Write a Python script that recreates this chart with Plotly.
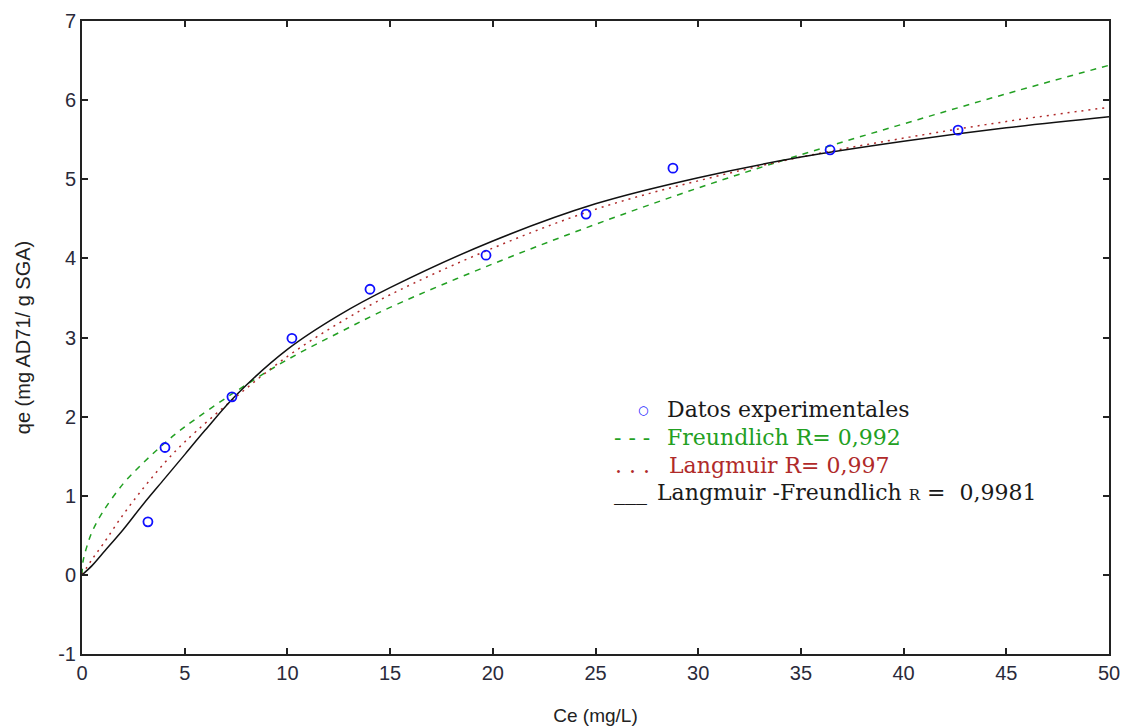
import plotly.graph_objects as go

# Experimental equilibrium data
ce_exp = [3.21, 4.04, 7.30, 10.22, 14.02, 19.67, 24.54, 28.77, 36.42, 42.65]
qe_exp = [0.67, 1.61, 2.25, 2.99, 3.61, 4.04, 4.56, 5.14, 5.37, 5.62]

# Freundlich isotherm curve
ce_fr = [0, 0.05, 0.25, 0.5, 1, 2, 3, 4, 5, 7.5, 10, 12.5, 15, 20, 25, 30, 35, 40, 45, 50]
qe_fr = [0, 0.17, 0.37, 0.55, 0.79, 1.15, 1.42, 1.66, 1.87, 2.32, 2.72, 3.06, 3.38,
         3.93, 4.43, 4.89, 5.31, 5.70, 6.08, 6.44]

# Langmuir isotherm curve
ce_la = [0, 0.5, 1, 2, 3, 4, 5, 7.5, 10, 12.5, 15, 20, 25, 30, 35, 40, 45, 50]
qe_la = [0, 0.20, 0.38, 0.76, 1.10, 1.41, 1.68, 2.25, 2.76, 3.18, 3.54, 4.13, 4.62,
         4.98, 5.28, 5.52, 5.73, 5.91]

# Langmuir-Freundlich isotherm curve
ce_lf = [0, 0.5, 1, 2, 3, 4, 5, 6, 7.5, 10, 12.5, 15, 20, 25, 30, 35, 40, 45, 50]
qe_lf = [0, 0.12, 0.27, 0.57, 0.90, 1.21, 1.52, 1.83, 2.27, 2.85, 3.28, 3.63, 4.22,
         4.69, 5.02, 5.28, 5.48, 5.65, 5.79]

x_ticks = [0, 5, 10, 15, 20, 25, 30, 35, 40, 45, 50]
y_ticks = [-1, 0, 1, 2, 3, 4, 5, 6, 7]
y_tick_labels = ["-1", "0", "1", "2", "3", "4", "5", "6", "7"]

GREEN = "#22a022"
RED = "#b02a2a"
BLUE = "#1010ff"

fig = go.Figure()
fig.add_trace(go.Scatter(x=ce_fr, y=qe_fr, mode="lines", line_shape="spline",
                         line=dict(color=GREEN, width=1.5, dash="6px,6px")))
fig.add_trace(go.Scatter(x=ce_la, y=qe_la, mode="lines", line_shape="spline",
                         line=dict(color=RED, width=1.5, dash="2px,5px")))
fig.add_trace(go.Scatter(x=ce_lf, y=qe_lf, mode="lines", line_shape="spline",
                         line=dict(color="#111111", width=1.5)))
fig.add_trace(go.Scatter(x=ce_exp, y=qe_exp, mode="markers",
                         marker=dict(symbol="circle-open", size=9, color=BLUE,
                                     line=dict(width=1.8, color=BLUE))))

axis_common = dict(
    showgrid=False, zeroline=False, showline=True, linecolor="#222222", linewidth=2,
    mirror="ticks", ticks="inside", ticklen=6, tickwidth=1.5, tickcolor="#222222",
    automargin=False,
    tickfont=dict(family="Liberation Sans, Arial", size=20, color="#2a2a3a"),
)

fig.update_xaxes(range=[0, 50], tickvals=x_ticks, **axis_common,
                 title=dict(text="Ce (mg/L)", standoff=26,
                            font=dict(family="Liberation Sans, Arial", size=19, color="#222222")))
fig.update_yaxes(range=[-1, 7], tickvals=y_ticks, ticktext=y_tick_labels, **axis_common,
                 title=dict(text="qe (mg AD71/ g SGA)", standoff=22,
                            font=dict(family="Liberation Sans, Arial", size=20, color="#222222")))

LEG_FONT = "DejaVu Serif, Liberation Serif, serif"
legend_items = [
    # (x, y, text, colour, size)
    (26.97, 2.09, "○", BLUE, 12),
    (28.38, 2.09, "Datos experimentales", "#1a1a1a", 22),
    (25.80, 1.73, "- - -", GREEN, 22),
    (28.38, 1.73, "Freundlich R= 0,992", GREEN, 22),
    (25.85, 1.38, ". . .", RED, 22),
    (28.47, 1.38, "Langmuir R= 0,997", RED, 22),
    (25.80, 1.04, "___", "#1a1a1a", 22),
    (27.90, 1.04, "Langmuir -Freundlich <span style='font-size:15px'>R</span> =  0,9981", "#1a1a1a", 22),
]
for x, y, text, color, size in legend_items:
    fig.add_annotation(x=x, y=y, xref="x", yref="y", text=text, showarrow=False,
                       xanchor="left", yanchor="middle",
                       font=dict(family=LEG_FONT, size=size, color=color))

fig.update_layout(
    width=1125, height=727,
    margin=dict(l=82, r=16, t=21, b=73),
    paper_bgcolor="white", plot_bgcolor="white",
    showlegend=False,
)

fig.write_html("out.html")
